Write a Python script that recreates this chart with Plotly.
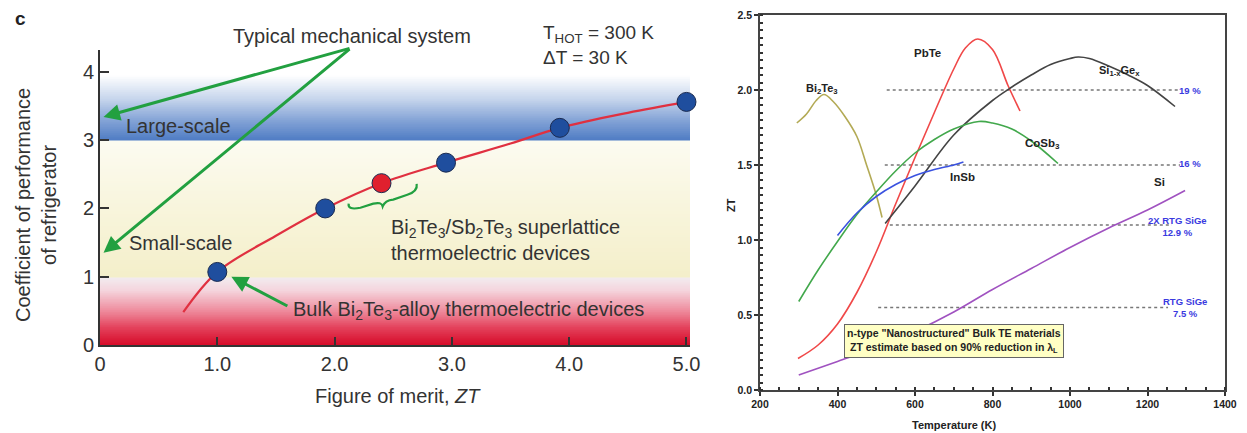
import numpy as np
import plotly.graph_objects as go

OFF = 8  # page body margin in the browser
W, H = 1247 - OFF, 433 - OFF
FONT = "Liberation Sans"

# ---------------- Left panel data (COP vs ZT) ----------------
zt_curve = [0.71, 1.0, 1.5, 1.92, 2.4, 2.95, 3.5, 3.92, 4.5, 5.0]
cop_curve = [0.48, 1.07, 1.60, 2.0, 2.37, 2.67, 2.95, 3.18, 3.40, 3.56]
zt_points = [1.0, 1.92, 2.4, 2.95, 3.92, 5.0]
cop_points = [1.07, 2.0, 2.37, 2.67, 3.18, 3.56]
point_colors = ["#1f4e9e", "#1f4e9e", "#e0202e", "#1f4e9e", "#1f4e9e", "#1f4e9e"]
left_yticks = [0, 1, 2, 3, 4]
left_xticks = [0, 1, 2, 3, 4, 5]
left_xticklabels = ["0", "1.0", "2.0", "3.0", "4.0", "5.0"]

# background bands (COP levels) and gradient colour stops
band_top = 3.95
grad_levels = [0.0, 0.25, 0.5, 0.8, 0.99, 1.0, 2.0, 2.99, 3.0, 3.3, 3.6, 3.95]
grad_colors = ["#d60a28", "#e3405a", "#ee8a9c", "#f4d4dc", "#f2ecf0",
               "#f4efca", "#f8f5dc", "#fcfbf1",
               "#4f7cc4", "#86a5d7", "#c6d5ec", "#ffffff"]

# ---------------- Right panel data (ZT vs T) ----------------
bi2te3_T = [295, 320, 345, 365, 390, 420, 450, 475, 500, 515]
bi2te3_ZT = [1.78, 1.84, 1.93, 1.97, 1.92, 1.82, 1.69, 1.50, 1.30, 1.15]
pbte_T = [298, 350, 400, 450, 500, 550, 600, 650, 700, 730, 762, 800, 840, 871]
pbte_ZT = [0.21, 0.30, 0.44, 0.65, 0.92, 1.24, 1.55, 1.85, 2.14, 2.28, 2.34, 2.27, 2.03, 1.86]
sige_T = [523, 600, 700, 800, 850, 900, 950, 1000, 1021, 1050, 1100, 1150, 1200, 1271]
sige_ZT = [1.11, 1.36, 1.70, 1.93, 2.02, 2.10, 2.17, 2.21, 2.22, 2.21, 2.16, 2.10, 2.03, 1.89]
cosb3_T = [300, 350, 400, 450, 500, 550, 600, 650, 700, 765, 800, 850, 900, 969]
cosb3_ZT = [0.59, 0.80, 0.99, 1.17, 1.32, 1.46, 1.58, 1.67, 1.74, 1.79, 1.78, 1.74, 1.66, 1.51]
insb_T = [400, 450, 500, 550, 600, 650, 700, 725]
insb_ZT = [1.03, 1.18, 1.29, 1.37, 1.43, 1.47, 1.50, 1.52]
si_T = [300, 400, 500, 600, 700, 800, 900, 1000, 1100, 1200, 1297]
si_ZT = [0.10, 0.19, 0.28, 0.39, 0.52, 0.67, 0.81, 0.95, 1.08, 1.20, 1.33]

ref_levels = [2.0, 1.5, 1.1, 0.55]
ref_T_start = [527, 522, 535, 505]
ref_T_end = [1284, 1284, 1263, 1253]
ref_labels = ["19 %", "16 %", "2X RTG SiGe<br>12.9 %", "RTG SiGe<br>7.5 %"]
ref_label_T = [1310, 1310, 1277, 1297]
ref_label_ZT = [2.0, 1.51, 1.09, 0.55]


def px(x):
    return (x - OFF) / W


def py(y):
    return 1 - (y - OFF) / H


fig = go.Figure()

# ---------- left subplot ----------
y_edges = np.round(np.arange(0, band_top + 0.0001, 0.01), 4)
y_mid = (y_edges[:-1] + y_edges[1:]) / 2
cscale = [[lv / band_top, c] for lv, c in zip(grad_levels, grad_colors)]
fig.add_trace(go.Heatmap(
    x=[0, 5.03], y=y_edges, z=y_mid.reshape(-1, 1),
    zmin=0, zmax=band_top, colorscale=cscale, showscale=False,
    hoverinfo="skip", xaxis="x", yaxis="y"))

fig.add_trace(go.Scatter(
    x=zt_curve, y=cop_curve, mode="lines", line=dict(color="#e03040", width=2.2, shape="spline"),
    xaxis="x", yaxis="y", showlegend=False, hoverinfo="skip"))
fig.add_trace(go.Scatter(
    x=zt_points, y=cop_points, mode="markers",
    marker=dict(color=point_colors, size=19, line=dict(color="#1a2a50", width=1)),
    xaxis="x", yaxis="y", showlegend=False, cliponaxis=False))

# ---------- right subplot ----------
series = [
    (bi2te3_T, bi2te3_ZT, "#b3aa55"),
    (pbte_T, pbte_ZT, "#f04848"),
    (sige_T, sige_ZT, "#444444"),
    (cosb3_T, cosb3_ZT, "#42a84c"),
    (insb_T, insb_ZT, "#3a52e0"),
    (si_T, si_ZT, "#a052c0"),
]
for lv, t0, t1 in zip(ref_levels, ref_T_start, ref_T_end):
    fig.add_trace(go.Scatter(
        x=[t0, t1], y=[lv, lv], mode="lines",
        line=dict(color="#777777", width=1.5, dash="3px,3px"),
        xaxis="x2", yaxis="y2", showlegend=False, hoverinfo="skip"))
for tx, zy, col in series:
    fig.add_trace(go.Scatter(
        x=tx, y=zy, mode="lines", line=dict(color=col, width=1.6, shape="spline", smoothing=1.0),
        xaxis="x2", yaxis="y2", showlegend=False))

annotations = []
tc = "#333333"
# left panel texts
annotations += [
    dict(xref="paper", yref="paper", x=px(20), y=py(18), text="<b>c</b>", showarrow=False,
         font=dict(size=19, color="#222"), xanchor="center", yanchor="middle"),
    dict(xref="paper", yref="paper", x=px(352), y=py(36), text="Typical mechanical system",
         showarrow=False, font=dict(size=20, color=tc), xanchor="center", yanchor="middle"),
    dict(xref="paper", yref="paper", x=px(541), y=py(45),
         text="T<sub>HOT</sub> = 300 K<br>ΔT = 30 K", align="left",
         showarrow=False, font=dict(size=19, color=tc), xanchor="left", yanchor="middle"),
    dict(xref="paper", yref="paper", x=px(124), y=py(126), text="Large-scale",
         showarrow=False, font=dict(size=20, color=tc), xanchor="left", yanchor="middle"),
    dict(xref="paper", yref="paper", x=px(127), y=py(243), text="Small-scale",
         showarrow=False, font=dict(size=20, color=tc), xanchor="left", yanchor="middle"),
    dict(xref="paper", yref="paper", x=px(389), y=py(240),
         text="Bi<sub>2</sub>Te<sub>3</sub>/Sb<sub>2</sub>Te<sub>3</sub> superlattice<br>thermoelectric devices",
         align="left", showarrow=False, font=dict(size=20, color=tc), xanchor="left", yanchor="middle"),
    dict(xref="paper", yref="paper", x=px(291), y=py(310),
         text="Bulk Bi<sub>2</sub>Te<sub>3</sub>-alloy thermoelectric devices",
         showarrow=False, font=dict(size=20, color=tc), xanchor="left", yanchor="middle"),
    dict(xref="paper", yref="paper", x=px(313), y=py(396), text="Figure of merit, <i>ZT</i>",
         showarrow=False, font=dict(size=20, color=tc), xanchor="left", yanchor="middle"),
    dict(xref="paper", yref="paper", x=px(36), y=py(205),
         text="Coefficient of performance<br>of refrigerator", textangle=-90,
         showarrow=False, font=dict(size=20, color=tc), xanchor="center", yanchor="middle"),
]
# green arrows (left)
green = "#22a040"
for tip in [(0.03, 3.34), (0.03, 1.35)]:
    annotations.append(dict(xref="x", yref="y", axref="x", ayref="y", x=tip[0], y=tip[1],
                            ax=2.14, ay=4.35, showarrow=True, arrowhead=2, arrowsize=1.1,
                            arrowwidth=3, arrowcolor=green, text=""))
annotations.append(dict(xref="x", yref="y", axref="x", ayref="y", x=1.12, y=1.0,
                        ax=1.61, ay=0.56, showarrow=True, arrowhead=2, arrowsize=1.1,
                        arrowwidth=3, arrowcolor=green, text=""))

# right panel texts
annotations += [
    dict(xref="paper", yref="paper", x=px(822), y=py(80), text="<b>Bi<sub>2</sub>Te<sub>3</sub></b>",
         showarrow=False, font=dict(size=11, color="#222")),
    dict(xref="paper", yref="paper", x=px(943), y=py(45), text="<b>PbTe</b>",
         showarrow=False, font=dict(size=11.5, color="#222")),
    dict(xref="paper", yref="paper", x=px(1142), y=py(62), text="<b>Si<sub>1-x</sub>Ge<sub>x</sub></b>",
         showarrow=False, font=dict(size=11, color="#222")),
    dict(xref="paper", yref="paper", x=px(1062), y=py(135), text="<b>CoSb<sub>3</sub></b>",
         showarrow=False, font=dict(size=11.5, color="#222")),
    dict(xref="paper", yref="paper", x=px(977), y=py(177), text="<b>InSb</b>",
         showarrow=False, font=dict(size=11.5, color="#222")),
    dict(xref="paper", yref="paper", x=px(1167), y=py(182), text="<b>Si</b>",
         showarrow=False, font=dict(size=11.5, color="#222")),
    dict(xref="paper", yref="paper", x=px(731), y=py(205), text="<b>ZT</b>", textangle=-90,
         showarrow=False, font=dict(size=11, color="#222")),
    dict(xref="paper", yref="paper", x=px(998), y=py(425), text="<b>Temperature (K)</b>",
         showarrow=False, font=dict(size=11, color="#222"), yanchor="middle"),
    dict(xref="paper", yref="paper", x=px(1064), y=py(358),
         text="<b>n-type \"Nanostructured\" Bulk TE materials<br>ZT estimate based on 90% reduction in λ<sub>L</sub></b>",
         showarrow=False, font=dict(size=10.5, color="#222"), bgcolor="#ffffc4",
         bordercolor="#666", borderwidth=1, borderpad=2),
]
for lbl, t, z in zip(ref_labels, ref_label_T, ref_label_ZT):
    annotations.append(dict(xref="x2", yref="y2", x=t, y=z, text="<b>" + lbl + "</b>",
                            showarrow=False, font=dict(size=9.5, color="#3a3ae0"),
                            xanchor="center", yanchor="middle"))

shapes = [
    # green curly brace under the superlattice point
    dict(type="path", xref="x", yref="y",
         path="M 2.12,2.07 Q 2.11,1.97 2.22,2.01 L 2.33,2.07 Q 2.40,2.10 2.41,2.03 "
              "Q 2.43,2.12 2.50,2.13 L 2.62,2.20 Q 2.71,2.25 2.70,2.36",
         line=dict(color=green, width=2.2)),
]

axis_font = dict(family=FONT, size=20, color="#333")
rtick_font = dict(family=FONT, size=10.5, color="#222", weight="bold")
fig.update_layout(
    width=W, height=H, margin=dict(l=0, r=0, t=0, b=0, autoexpand=False),
    paper_bgcolor="white", plot_bgcolor="rgba(0,0,0,0)",
    font=dict(family=FONT),
    showlegend=False,
    annotations=annotations, shapes=shapes,
    xaxis=dict(domain=[px(100), px(690)], range=[0, 5.03], tickvals=left_xticks,
               ticktext=left_xticklabels, ticks="inside", ticklen=8, tickwidth=1.5,
               tickcolor="#333", showline=True, linecolor="#333", linewidth=2,
               showgrid=False, zeroline=False, tickfont=axis_font, anchor="y", automargin=False),
    yaxis=dict(domain=[py(345), py(50)], range=[0, 4.32], tickvals=left_yticks,
               ticks="inside", ticklen=9, tickwidth=1.5, tickcolor="#333",
               showline=True, linecolor="#333", linewidth=2, showgrid=False, zeroline=False,
               tickfont=axis_font, anchor="x", automargin=False),
    xaxis2=dict(domain=[px(760), px(1225)], range=[200, 1400], dtick=200, tick0=200,
                ticks="outside", ticklen=4, tickwidth=1.5, tickcolor="#333",
                minor=dict(dtick=50, ticks="inside", ticklen=3, tickcolor="#333"),
                showline=True, linecolor="#444", linewidth=1.5, mirror=True,
                showgrid=False, zeroline=False, automargin=False,
                tickfont=rtick_font, anchor="y2"),
    yaxis2=dict(domain=[py(390), py(15)], range=[0, 2.5], dtick=0.5, tickformat=".1f",
                ticks="outside", ticklen=4, tickwidth=1.5, tickcolor="#333",
                minor=dict(dtick=0.05, ticks="inside", ticklen=3, tickcolor="#333"),
                showline=True, linecolor="#444", linewidth=1.5, mirror=True,
                showgrid=False, zeroline=False, automargin=False,
                tickfont=rtick_font, anchor="x2"),
)

fig.write_html("out.html")
